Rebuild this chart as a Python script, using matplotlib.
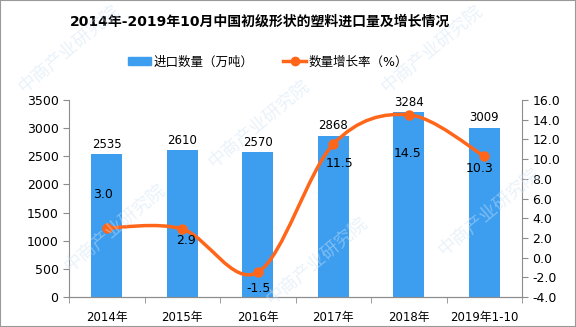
import numpy as np
import matplotlib
matplotlib.use("Agg")
import matplotlib.pyplot as plt
from matplotlib.path import Path
from matplotlib.patches import PathPatch, Rectangle
from matplotlib.lines import Line2D
from matplotlib.patches import Patch

plt.rcParams['font.family'] = ['DejaVu Sans', 'Noto Sans CJK SC']

# data
years = ["2014年", "2015年", "2016年", "2017年", "2018年", "2019年1-10"]
volume = [2535, 2610, 2570, 2868, 3284, 3009]
growth = [3.0, 2.9, -1.5, 11.5, 14.5, 10.3]
# label offsets for growth labels (pixels, from the reference)
growth_off = [(-4, 34), (4, -11), (1, -16), (6, -19), (-1, -39), (-5, -12)]

bar_color = "#3d9ef0"
line_color = "#ff6619"
axis_color = "#8c8c8c"

fig = plt.figure(figsize=(5.76, 3.27), dpi=100)
ax = fig.add_axes([69 / 576, 1 - 297 / 327, 453 / 576, 197 / 327])
ax2 = ax.twinx()

x = np.arange(len(years))
ax.bar(x, volume, width=0.41, color=bar_color, zorder=2)
for xi, v in zip(x, volume):
    ax.annotate(str(v), (xi, v), xytext=(0, 7), textcoords="offset points",
                ha="center", va="center", fontsize=8.5)

ax.set_xlim(-0.5, len(years) - 0.5)
ax.set_ylim(0, 3500)
ax.set_yticks(np.arange(0, 3501, 500))
ax.set_xticks(x)
ax.set_xticklabels(years, fontsize=8.5)
ax.set_xticks(np.arange(-0.5, len(years), 1), minor=True)
ax.tick_params(axis="x", which="major", length=0, pad=10)
ax.tick_params(axis="x", which="minor", length=4, color=axis_color)
ax.tick_params(axis="y", length=4, color=axis_color, labelsize=9)

ax2.set_ylim(-4, 16)
ax2.set_yticks(np.arange(-4, 16.1, 2))
ax2.set_yticklabels(["%.1f" % t for t in np.arange(-4, 16.1, 2)])
ax2.tick_params(axis="y", length=4, color=axis_color, labelsize=9)

for a in (ax, ax2):
    a.spines["top"].set_visible(False)
    for s in ("left", "right", "bottom"):
        a.spines[s].set_color(axis_color)
ax.spines["right"].set_visible(False)
ax2.spines["left"].set_visible(False)

# smooth line through the points (Catmull-Rom as Bezier)
pts = np.column_stack([x, growth]).astype(float)
verts = [pts[0]]
codes = [Path.MOVETO]
for i in range(len(pts) - 1):
    p0 = pts[i - 1] if i > 0 else pts[i]
    p1 = pts[i]
    p2 = pts[i + 1]
    p3 = pts[i + 2] if i + 2 < len(pts) else pts[i + 1]
    c1 = p1 + (p2 - p0) / 6
    c2 = p2 - (p3 - p1) / 6
    verts += [c1, c2, p2]
    codes += [Path.CURVE4] * 3
ax2.add_patch(PathPatch(Path(verts, codes), facecolor="none",
                        edgecolor=line_color, lw=2.5, zorder=3))
ax2.plot(x, growth, "o", color=line_color, ms=6.5, zorder=4)
for xi, g, (dx, dy) in zip(x, growth, growth_off):
    ax2.annotate("%.1f" % g, (xi, g), xytext=(dx * 0.72, dy * 0.72),
                 textcoords="offset points", ha="center", va="center",
                 fontsize=9)

fig.text(260 / 576, 1 - 22 / 327, "2014年-2019年10月中国初级形状的塑料进口量及增长情况",
         ha="center", va="center", fontsize=10, fontweight="bold")

handles = [Patch(color=bar_color),
           Line2D([], [], color=line_color, lw=2.5, marker="o", ms=6)]
fig.legend(handles, ["进口数量（万吨）", "数量增长率（%）"], loc="center",
           bbox_to_anchor=(268 / 576, 1 - 62 / 327), ncol=2, frameon=False,
           fontsize=9, handlelength=1.8, handleheight=0.6,
           columnspacing=2.4, handletextpad=0.2)

# watermark
for wx, wy in [(0.12, 0.85), (0.45, 0.62), (0.75, 0.85), (0.2, 0.3),
               (0.55, 0.2), (0.85, 0.35)]:
    fig.text(wx, wy, "中商产业研究院", rotation=40, fontsize=13,
             color="#cfe2f3", alpha=0.45, ha="center", va="center", zorder=10)

fig.add_artist(Rectangle((0, 0), 1, 1, transform=fig.transFigure,
                         fill=False, edgecolor="#999999", lw=1.5))

fig.savefig("out.png", dpi=100)
